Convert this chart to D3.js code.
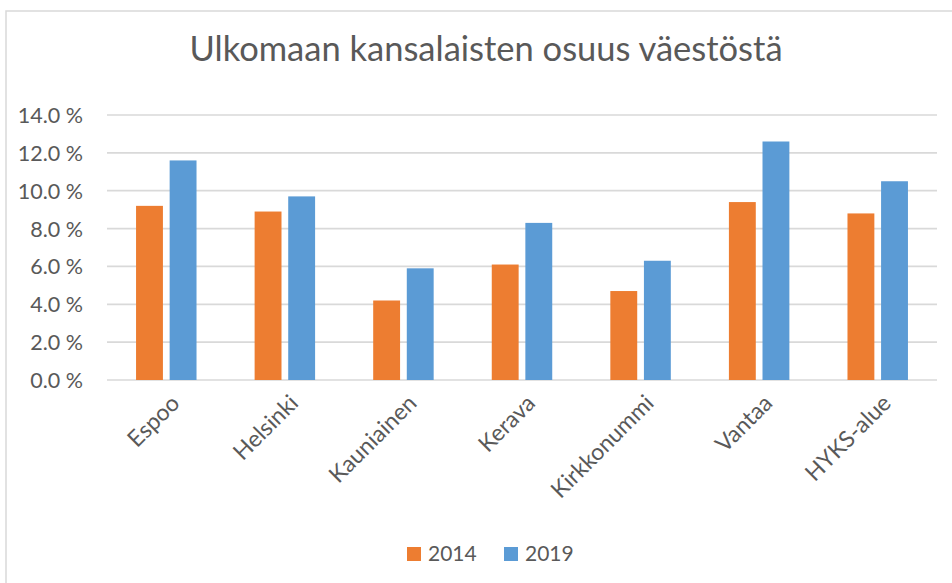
<!DOCTYPE html>
<html>
<head>
<meta charset="utf-8">
<script src="https://cdnjs.cloudflare.com/ajax/libs/d3/7.8.5/d3.min.js"></script>
<style>
  body { margin: 0; background: #fff; }
  svg { display: block; font-family: Lato, "Open Sans", sans-serif; }
</style>
</head>
<body>
<svg id="chart" width="952" height="583"></svg>
<script>
// Données
const categories = ['Espoo', 'Helsinki', 'Kauniainen', 'Kerava', 'Kirkkonummi', 'Vantaa', 'HYKS-alue'];
const series = ['2014', '2019'];
const values2014 = [9.2, 8.9, 4.2, 6.1, 4.7, 9.4, 8.8];
const values2019 = [11.6, 9.7, 5.9, 8.3, 6.3, 12.6, 10.5];
const yTicks = [0, 2, 4, 6, 8, 10, 12, 14];
const colors = ['#ED7D31', '#5B9BD5'];

const svg = d3.select('#chart');
const textColor = '#595959';

// Cadre du graphique
svg.append('rect')
   .attr('x', 6).attr('y', 11)
   .attr('width', 960).attr('height', 600)
   .attr('fill', '#fff')
   .attr('stroke', '#D9D9D9')
   .attr('stroke-width', 1.5);

// Titre
svg.append('text')
   .attr('x', 486)
   .attr('y', 61)
   .attr('text-anchor', 'middle')
   .attr('fill', textColor)
   .style('font-size', '34.5px')
   .text('Ulkomaan kansalaisten osuus väestöstä');

const plotLeft = 107, plotRight = 937, plotTop = 115, plotBottom = 380;

const x0 = d3.scaleBand()
             .domain(categories)
             .range([plotLeft, plotRight]);

const bw = x0.bandwidth();
const x1 = d3.scaleBand()
             .domain(series)
             .range([bw * 0.245, bw * 0.755])
             .paddingInner(0.2);

const y = d3.scaleLinear()
            .domain([0, 14])
            .range([plotBottom, plotTop]);

// Lignes de grille
svg.append('g')
   .selectAll('line')
   .data(yTicks)
   .join('line')
   .attr('x1', plotLeft).attr('x2', plotRight)
   .attr('y1', d => y(d)).attr('y2', d => y(d))
   .attr('stroke', '#D9D9D9')
   .attr('stroke-width', 1.7);

// Axe Y
const yAxis = svg.append('g')
   .attr('transform', `translate(${plotLeft - 24},0)`)
   .call(d3.axisLeft(y).tickValues(yTicks).tickSize(0).tickFormat(d => d.toFixed(1) + ' %'));
yAxis.select('.domain').remove();
yAxis.selectAll('text')
     .attr('fill', textColor)
     .attr('x', 0)
     .attr('dy', '0.35em')
     .style('font-size', '21.5px')
     .style('font-family', 'Lato, "Open Sans", sans-serif');

// Barres
const data = categories.map((c, i) => ({ cat: c, vals: [values2014[i], values2019[i]] }));

const groups = svg.append('g')
   .selectAll('g')
   .data(data)
   .join('g')
   .attr('transform', d => `translate(${x0(d.cat)},0)`);

groups.selectAll('rect')
      .data(d => d.vals.map((v, j) => ({ key: series[j], value: v, color: colors[j] })))
      .join('rect')
      .attr('x', d => x1(d.key))
      .attr('y', d => y(d.value))
      .attr('width', x1.bandwidth())
      .attr('height', d => y(0) - y(d.value))
      .attr('fill', d => d.color);

// Axe X (étiquettes inclinées)
const xAxis = svg.append('g')
   .attr('transform', `translate(0,${plotBottom})`)
   .call(d3.axisBottom(x0).tickSize(0));
xAxis.select('.domain').remove();
xAxis.selectAll('text')
     .attr('fill', textColor)
     .style('font-size', '23px')
     .style('font-family', 'Lato, "Open Sans", sans-serif')
     .attr('text-anchor', 'end')
     .attr('transform', 'translate(9,19) rotate(-45)')
     .attr('y', 0)
     .attr('dy', '0.35em');

// Légende
const legend = svg.append('g').attr('transform', 'translate(407,547)');
series.forEach((s, i) => {
    const lg = legend.append('g').attr('transform', `translate(${i * 97},0)`);
    lg.append('rect')
      .attr('width', 14).attr('height', 14)
      .attr('fill', colors[i]);
    lg.append('text')
      .attr('x', 21)
      .attr('y', 7)
      .attr('dy', '0.35em')
      .attr('fill', textColor)
      .style('font-size', '21px')
      .text(s);
});
</script>
</body>
</html>
